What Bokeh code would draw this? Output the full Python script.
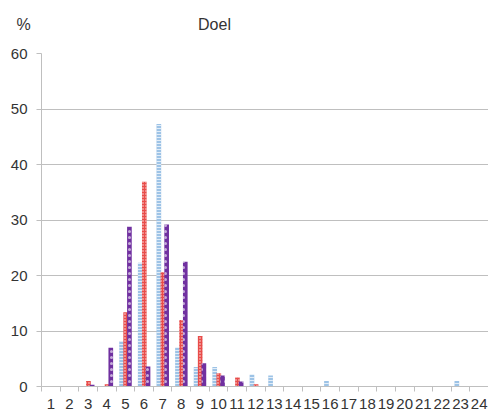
from bokeh.plotting import figure
from bokeh.models import Range1d, FixedTicker, LinearAxis, ColumnDataSource
from bokeh.transform import dodge
from bokeh.embed import file_html
from bokeh.resources import INLINE

categories = list(range(1, 25))
tick_labels = [str(c) for c in categories]
series_blue = [0, 0, 0, 0, 8.2, 22.3, 47.3, 7.0, 3.5, 3.5, 0, 2.1, 2.0, 0, 0, 1.0, 0, 0, 0, 0, 0, 0, 1.0, 0]
series_red = [0, 0, 1.0, 0.4, 13.4, 36.9, 20.6, 12.0, 9.1, 2.4, 1.6, 0.4, 0, 0, 0, 0, 0, 0, 0, 0, 0, 0, 0, 0]
series_purple = [0, 0, 0.3, 7.0, 28.8, 3.6, 29.2, 22.5, 4.2, 2.0, 0.9, 0, 0, 0, 0, 0, 0, 0, 0, 0, 0, 0, 0, 0]
y_ticks = [0, 10, 20, 30, 40, 50, 60]
unit_label = "%"
title_text = "Doel"

src = ColumnDataSource(dict(x=categories, blue=series_blue, red=series_red, purple=series_purple))

FONT = "Liberation Sans"
TXT = "#333333"
GRID = "#bfbfbf"

p = figure(width=488, height=414, output_backend="svg", toolbar_location=None,
           x_range=Range1d(0.5, 24.5), y_range=Range1d(0, 60),
           min_border_left=41, min_border_right=0, min_border_top=53, min_border_bottom=28)
p.outline_line_color = None
p.background_fill_color = "white"
p.border_fill_color = "white"

p.vbar(x=dodge("x", -0.2), top="blue", width=0.25, source=src,
       fill_color="#9dc3e6", line_color=None,
       hatch_pattern="horizontal_line", hatch_color="white", hatch_scale=3, hatch_weight=1, hatch_alpha=0.7)
p.vbar(x=dodge("x", 0.02), top="red", width=0.25, source=src,
       fill_color="#e84c49", line_color=None,
       hatch_pattern="dot", hatch_color="white", hatch_scale=3, hatch_weight=1.5, hatch_alpha=0.9)
p.vbar(x=dodge("x", 0.22), top="purple", width=0.25, source=src,
       fill_color="#7030a0", line_color=None,
       hatch_pattern="dot", hatch_color="white", hatch_scale=6, hatch_weight=1, hatch_alpha=0.6)

# bottom axis: labels at category centres, ticks between categories
p.xaxis.ticker = FixedTicker(ticks=categories, minor_ticks=[c - 0.5 for c in categories] + [24.5])
p.xaxis.major_label_overrides = {c: l for c, l in zip(categories, tick_labels)}
p.xaxis.major_tick_line_color = None
p.xaxis.minor_tick_in = 0
p.xaxis.minor_tick_out = 5
p.xaxis.minor_tick_line_color = GRID
p.xaxis.axis_line_color = GRID
p.xaxis.major_label_text_font = FONT
p.xaxis.major_label_text_font_size = "15px"
p.xaxis.major_label_text_color = TXT
p.xaxis.major_label_standoff = 6

p.yaxis.ticker = FixedTicker(ticks=y_ticks, minor_ticks=[])
p.yaxis.major_tick_in = 0
p.yaxis.major_tick_out = 5
p.yaxis.major_tick_line_color = GRID
p.yaxis.axis_line_color = GRID
p.yaxis.major_label_text_font = FONT
p.yaxis.major_label_text_font_size = "15px"
p.yaxis.major_label_text_color = TXT
p.yaxis.major_label_standoff = 9

p.xgrid.grid_line_color = None
p.ygrid.grid_line_color = GRID
p.ygrid.grid_line_width = 1

# top "axis" carrying the unit label (top-left, over the y labels) and the chart title
NBSP = "\u00a0"
pct_x, title_x = 0.5, 9.79
top = LinearAxis(ticker=FixedTicker(ticks=[pct_x, title_x], minor_ticks=[]),
                 major_label_overrides={pct_x: unit_label + NBSP * 8, title_x: title_text})
top.axis_line_color = None
top.major_tick_line_color = None
top.minor_tick_line_color = None
top.major_tick_out = 0
top.major_label_standoff = 21
top.major_label_text_font = FONT
top.major_label_text_font_size = "16px"
top.major_label_text_color = TXT
p.add_layout(top, "above")

open("out.html", "w").write(file_html(p, INLINE))
